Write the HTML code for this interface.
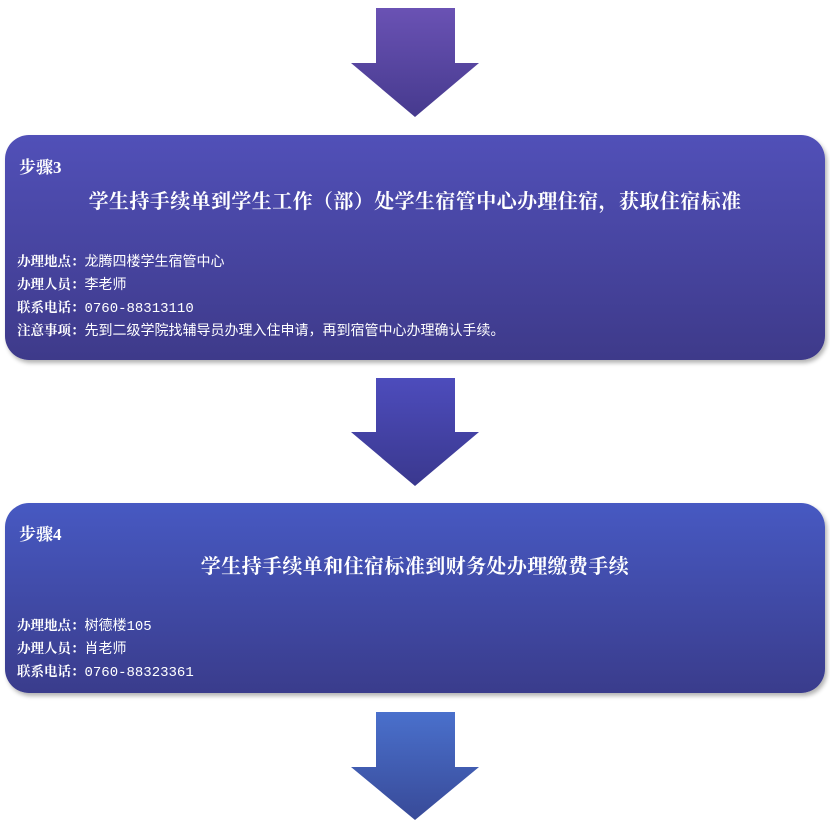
<!DOCTYPE html>
<html><head><meta charset="utf-8"><style>
body{margin:0;width:830px;height:826px;background:#fff;position:relative;overflow:hidden;font-family:"Liberation Serif","Noto Serif CJK SC",serif;color:#fff}
.box{position:absolute;left:5px;width:820px;border-radius:24px;box-shadow:2px 3px 4px rgba(0,0,0,.3)}
.step{position:absolute;left:14px;font-weight:bold;font-size:17px}
.title{position:absolute;left:0;width:820px;text-align:center;font-weight:bold;font-size:20px;letter-spacing:.4px}
.d{position:absolute;left:12px;font-size:14px;font-family:"Liberation Mono","Noto Sans CJK SC",sans-serif}
.d div{height:23px;line-height:23px;overflow:visible;white-space:nowrap}
.d b{font-family:"Noto Serif CJK SC",serif;font-size:13.5px;line-height:1}
svg{position:absolute;left:0}
</style></head><body>
<svg width="830" height="826" style="top:0">
<defs>
<linearGradient id="a1" x1="0" y1="0" x2="0" y2="1"><stop offset="0" stop-color="#6a52b4"/><stop offset="1" stop-color="#463a8e"/></linearGradient>
<linearGradient id="a2" x1="0" y1="0" x2="0" y2="1"><stop offset="0" stop-color="#4d4cbc"/><stop offset="1" stop-color="#3a388e"/></linearGradient>
<linearGradient id="a3" x1="0" y1="0" x2="0" y2="1"><stop offset="0" stop-color="#4a70cc"/><stop offset="1" stop-color="#384a98"/></linearGradient>
</defs>
<polygon points="376,8 455,8 455,63 479,63 415,117 351,63 376,63" fill="url(#a1)"/>
<polygon points="376,378 455,378 455,432 479,432 415,486 351,432 376,432" fill="url(#a2)"/>
<polygon points="376,712 455,712 455,767 479,767 415,820 351,767 376,767" fill="url(#a3)"/>
</svg>
<div class="box" style="top:135px;height:225px;background:linear-gradient(#5150b8,#3e3a8a)">
<div class="step" style="top:18px">步骤3</div>
<div class="title" style="top:50px">学生持手续单到学生工作（部）处学生宿管中心办理住宿，获取住宿标准</div>
<div class="d" style="top:117px"><div><b>办理地点：</b>龙腾四楼学生宿管中心</div><div><b>办理人员：</b>李老师</div><div><b>联系电话：</b>0760-88313110</div><div><b>注意事项：</b>先到二级学院找辅导员办理入住申请，再到宿管中心办理确认手续。</div></div>
</div>
<div class="box" style="top:503px;height:190px;background:linear-gradient(#4759c2,#3a3c8c)">
<div class="step" style="top:17px">步骤4</div>
<div class="title" style="top:47px">学生持手续单和住宿标准到财务处办理缴费手续</div>
<div class="d" style="top:113px"><div><b>办理地点：</b>树德楼105</div><div><b>办理人员：</b>肖老师</div><div><b>联系电话：</b>0760-88323361</div></div>
</div>
</body></html>
